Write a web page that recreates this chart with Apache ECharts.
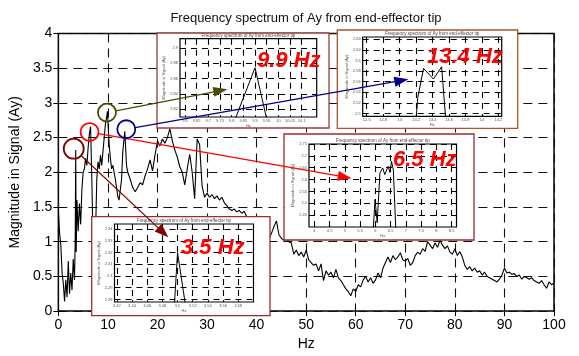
<!DOCTYPE html>
<html><head><meta charset="utf-8">
<script src="https://cdn.jsdelivr.net/npm/echarts@6/dist/echarts.min.js"></script>
<style>html,body{margin:0;padding:0;background:#fff}#c{width:579px;height:356px}</style>
</head><body><div id="c"></div>
<script>
// ---------------- DATA ----------------
const freq = [0,0.25,0.5,0.75,1,1.25,1.5,1.75,2,2.25,2.5,2.75,3,3.25,3.4,3.5,3.6,3.75,4,4.25,4.5,4.75,5,5.25,5.5,5.75,6,6.25,6.5,6.75,7,7.25,7.5,7.75,8,8.25,8.5,8.75,9,9.25,9.5,9.75,9.9,10.25,10.5,10.75,11,11.5,12,12.25,12.5,12.75,13,13.4,13.75,
14,14.5,15,15.5,16,16.5,17,17.5,18,18.5,19,19.5,20,20.5,21,21.5,22,22.5,23,23.5,24,24.5,25,25.5,26,26.5,27,27.5,28,28.5,29,29.5,
30,30.5,31,31.5,32,32.5,33,33.5,34,34.5,35,35.5,36,36.5,37,37.5,38,38.5,39,39.5,40,40.5,41,41.5,42,42.5,43,43.5,44,44.5,45,45.5,
46,46.5,47,47.5,48,48.5,49,49.5,50,50.5,51,51.5,52,52.5,53,53.5,54,54.5,55,55.5,56,56.5,57,57.5,58,58.5,59,59.5,60,60.5,61,61.5,
62,62.5,63,63.5,64,64.5,65,65.5,66,66.5,67,67.5,68,68.5,69,69.5,70,70.5,71,71.5,72,72.5,73,73.5,74,74.5,75,75.5,76,76.5,77,77.5,
78,78.5,79,79.5,80,80.5,81,81.5,82,82.5,83,83.5,84,84.5,85,85.5,86,86.5,87,87.5,88,88.5,89,89.5,90,90.5,91,91.5,92,92.5,93,93.5,
94,94.5,95,95.5,96,96.5,97,97.5,98,98.5,99,99.5,100];
const mag = [1.45,1.12,0.95,0.55,0.40,0.14,0.45,0.20,0.72,0.25,0.55,0.30,0.75,0.45,1.0,2.32,0.85,1.60,1.15,1.55,1.25,1.75,2.0,2.05,2.2,2.1,2.35,2.55,2.66,1.9,1.0,0.8,1.1,1.9,2.15,2.05,2.25,2.1,2.3,2.5,2.7,2.8,2.88,2.4,2.2,2.05,2.1,1.9,1.65,1.6,1.62,1.9,2.3,2.59,2.1,
2.0,1.9,1.78,1.72,1.78,1.85,1.82,1.95,2.05,2.18,2.02,2.25,2.45,2.38,2.48,2.42,2.50,2.63,2.45,2.32,2.22,2.08,2.0,1.82,2.05,2.26,2.0,1.62,2.48,2.40,1.80,1.64,
1.70,1.64,1.68,1.62,1.66,1.60,1.64,1.56,1.52,1.47,1.45,1.47,1.43,1.45,1.41,1.44,1.36,1.30,1.26,1.22,1.20,1.17,1.15,1.12,1.10,1.05,1.12,1.22,1.30,1.10,1.05,1.02,
1.04,1.00,0.98,0.82,0.88,0.80,0.85,0.78,0.88,0.74,0.70,0.66,0.68,0.58,0.68,0.44,0.58,0.52,0.56,0.48,0.60,0.48,0.44,0.38,0.32,0.28,0.22,0.32,0.28,0.38,0.35,0.45,
0.50,0.42,0.48,0.40,0.45,0.55,0.48,0.62,0.70,0.78,0.70,0.80,0.74,0.78,0.84,0.74,0.72,0.76,0.66,0.70,0.80,0.85,0.82,0.90,0.86,1.00,0.95,0.90,0.98,0.92,1.02,0.95,
0.90,0.94,0.85,0.82,0.90,0.80,0.86,0.78,0.66,0.60,0.64,0.58,0.62,0.56,0.58,0.52,0.56,0.50,0.48,0.46,0.44,0.42,0.46,0.52,0.62,0.55,0.56,0.53,0.54,0.50,0.52,0.46,
0.50,0.48,0.46,0.48,0.44,0.42,0.40,0.44,0.38,0.33,0.42,0.38,0.40];

// Inset data (zoomed spectra)
const insetA_freq = [9.8, 9.9, 10.0];
const insetA_mag  = [2.795, 2.874, 2.74];
const insetB_freq = [13.2, 13.22, 13.29, 13.41, 13.51, 13.58];
const insetB_mag  = [2.49, 2.53, 2.585, 2.565, 2.588, 2.45];
const insetC_freq = [5.93, 5.99, 6.06, 6.15, 6.24, 6.31, 6.42, 6.48, 6.53, 6.59, 6.67];
const insetC_mag  = [2.39, 2.516, 2.418, 2.628, 2.649, 2.621, 2.656, 2.63, 2.677, 2.64, 2.39];
const insetD_freq = [3.496, 3.5, 3.51];
const insetD_mag  = [2.277, 2.32, 2.277];

// Tick labels
const insetA_xTicks = [9.6, 9.65, 9.7, 9.75, 9.8, 9.85, 9.9, 9.95, 10, 10.05, 10.1];
const insetA_yTicks = [2.82, 2.84, 2.86, 2.88, 2.9];
const insetB_xTicks = [12.6, 12.8, 13, 13.2, 13.4, 13.6, 13.8, 14, 14.2];
const insetB_yTicks = [2.5, 2.52, 2.54, 2.56, 2.58, 2.6, 2.62, 2.64];
const insetC_xTicks = [4, 4.5, 5, 5.5, 6, 6.5, 7, 7.5, 8, 8.5];
const insetC_yTicks = [2.45, 2.5, 2.55, 2.6, 2.65, 2.7, 2.75];
const insetD_xTicks = [3.42, 3.44, 3.46, 3.48, 3.5, 3.52, 3.54, 3.56, 3.58];
const insetD_yTicks = [2.28, 2.29, 2.3, 2.31, 2.32, 2.33, 2.34];

const peakLabels = ['3.5 Hz', '6.5 Hz', '9.9 Hz', '13.4 Hz'];
const titleText = 'Frequency spectrum of Ay from end-effector tip';
const yName = 'Magnitude in Signal (Ay)';
const xName = 'Hz';

// ---------------- LAYOUT ----------------
const FONT = 'Liberation Sans, Arial, Helvetica, sans-serif';
const insets = [
  {grid:{left:180, top:38.7, width:136.7, height:78.3}, box:[157,33,172,95], boxColor:'#9a3c3c',
   xr:[9.579,10.164], yr:[2.8096,2.912], xt:insetA_xTicks, yt:insetA_yTicks, f:insetA_freq, m:insetA_mag,
   label:peakLabels[2], labelPos:[257,69]},
  {grid:{left:362.7, top:37, width:139, height:79.3}, box:[337.3,30,180.4,98.3], boxColor:'#b0532c',
   xr:[12.551,14.24], yr:[2.495,2.644], xt:insetB_xTicks, yt:insetB_yTicks, f:insetB_freq, m:insetB_mag,
   label:peakLabels[3], labelPos:[427,64.5]},
  {grid:{left:309, top:144, width:147.5, height:83}, box:[284,134,190,106], boxColor:'#a02a2a',
   xr:[3.825,8.66], yr:[2.40,2.75], xt:insetC_xTicks, yt:insetC_yTicks, f:insetC_freq, m:insetC_mag,
   label:peakLabels[1], labelPos:[393,168]},
  {grid:{left:114.5, top:224, width:139, height:78}, box:[91.7,216.7,178.3,99], boxColor:'#a02a2a',
   xr:[3.417,3.60], yr:[2.2778,2.3445], xt:insetD_xTicks, yt:insetD_yTicks, f:insetD_freq, m:insetD_mag,
   label:peakLabels[0], labelPos:[181,255.7]}
];

const fmt = v => String(parseFloat((+v).toFixed(4)));

const grids = [{left:58, top:33.5, width:496, height:284.2, show:true, borderColor:'#000', borderWidth:1.5, backgroundColor:'transparent', z:0}];
const xAxes = [
  {gridIndex:0, type:'value', min:0, max:100, interval:10, position:'bottom',
   axisLine:{show:false}, axisTick:{show:true, inside:true, length:5, lineStyle:{color:'#000'}},
   axisLabel:{fontSize:14, color:'#000', fontFamily:FONT, margin:7},
   splitLine:{show:true, lineStyle:{color:'#111', type:[9,6], width:1.1}},
   name:xName, nameLocation:'middle', nameGap:24, nameTextStyle:{fontSize:14, color:'#000', fontFamily:FONT}},
  {gridIndex:0, type:'value', min:0, max:100, interval:10, position:'top',
   axisLine:{show:false}, axisTick:{show:true, inside:true, length:5, lineStyle:{color:'#000'}},
   axisLabel:{show:false}, splitLine:{show:false}}
];
const yAxes = [
  {gridIndex:0, type:'value', min:0, max:4, interval:0.5, position:'left',
   axisLine:{show:false}, axisTick:{show:true, inside:true, length:5, lineStyle:{color:'#000'}},
   axisLabel:{fontSize:14, color:'#000', fontFamily:FONT, margin:6},
   splitLine:{show:true, lineStyle:{color:'#111', type:[9,6], width:1.1}},
   name:yName, nameLocation:'middle', nameGap:33, nameTextStyle:{fontSize:14, color:'#000', fontFamily:FONT}},
  {gridIndex:0, type:'value', min:0, max:4, interval:0.5, position:'right',
   axisLine:{show:false}, axisTick:{show:true, inside:true, length:5, lineStyle:{color:'#000'}},
   axisLabel:{show:false}, splitLine:{show:false}}
];
const series = [{
  type:'line', xAxisIndex:0, yAxisIndex:0, showSymbol:false, symbol:'none', z:2,
  lineStyle:{color:'#000', width:1.1}, data: freq.map((f,i)=>[f, mag[i]]), animation:false
}];
const graphics = [];

insets.forEach((ins, k) => {
  const gi = k + 1;
  const ai = xAxes.length;
  grids.push(Object.assign({show:true, borderColor:'#000', borderWidth:1.2, backgroundColor:'#fff', z:11}, ins.grid));
  xAxes.push({gridIndex:gi, type:'value', min:ins.xr[0], max:ins.xr[1], z:12, position:'bottom',
    axisLine:{show:false},
    axisTick:{show:true, inside:true, length:2, customValues:ins.xt, lineStyle:{color:'#000', width:0.8}},
    axisLabel:{customValues:ins.xt, fontSize:4, color:'#555', margin:2, fontFamily:FONT, formatter:fmt},
    splitLine:{show:true, lineStyle:{color:'#000', type:[6,5], width:1.1}},
    name:xName, nameLocation:'middle', nameGap:7, nameTextStyle:{fontSize:4, color:'#555', fontFamily:FONT}});
  yAxes.push({gridIndex:gi, type:'value', min:ins.yr[0], max:ins.yr[1], z:12, position:'left',
    axisLine:{show:false},
    axisTick:{show:true, inside:true, length:2, customValues:ins.yt, lineStyle:{color:'#000', width:0.8}},
    axisLabel:{customValues:ins.yt, fontSize:4, color:'#555', margin:2, fontFamily:FONT, formatter:fmt},
    splitLine:{show:true, lineStyle:{color:'#000', type:[6,5], width:1.1}},
    name:yName, nameLocation:'middle', nameGap:9, nameTextStyle:{fontSize:4, color:'#555', fontFamily:FONT}});
  series.push({type:'line', xAxisIndex:ai, yAxisIndex:ai, showSymbol:false, symbol:'none', z:13, clip:true,
    lineStyle:{color:'#000', width:1}, data: ins.f.map((f,i)=>[f, ins.m[i]]), animation:false});
  // outer white box
  graphics.push({type:'rect', z:10, shape:{x:ins.box[0], y:ins.box[1], width:ins.box[2], height:ins.box[3]},
    style:{fill:'#fff', stroke:ins.boxColor, lineWidth:1.3}});
  // inset title
  graphics.push({type:'text', z:14, style:{text:titleText, x:ins.grid.left + ins.grid.width/2, y:ins.grid.top - 3,
    align:'center', verticalAlign:'middle', font:'4.5px '+FONT, fill:'#444'}});
  // big peak label
  graphics.push({type:'text', z:15, style:{text:ins.label, x:ins.labelPos[0], y:ins.labelPos[1] - 7.7,
    align:'left', verticalAlign:'middle', font:'italic bold 22px '+FONT, fill:'#ff0000'}});
});

graphics.push({type:'text', z:15, style:{text:titleText, x:306, y:18, align:'center', verticalAlign:'middle',
  font:'13px '+FONT, fill:'#111'}});

const chart = echarts.init(document.getElementById('c'), null, {renderer:'canvas'});
chart.setOption({animation:false, backgroundColor:'#fff', grid:grids, xAxis:xAxes, yAxis:yAxes, series:series, graphic:graphics});

// annotations: circles around peaks (data coords) and arrows into insets
const annotations = [
  {center:[3.1,2.34], r:10, color:'#800000', tip:[168.3,237.3]},
  {center:[6.3,2.58], r:9, color:'#ff0000', tip:[351.7,178.3]},
  {center:[9.8,2.86], r:9, color:'#4a4a00', tip:[227.3,89.3]},
  {center:[13.7,2.62], r:9, color:'#00008b', tip:[408.3,79.3]}
];
const extra = [];
annotations.forEach(a => {
  const c = chart.convertToPixel({gridIndex:0}, a.center);
  const dx = a.tip[0]-c[0], dy = a.tip[1]-c[1], L = Math.hypot(dx,dy);
  const ux = dx/L, uy = dy/L, nx = -uy, ny = ux;
  const s = [c[0]+ux*a.r, c[1]+uy*a.r];
  const hl = 14, hw = 5;
  const base = [a.tip[0]-ux*hl, a.tip[1]-uy*hl];
  extra.push({type:'circle', z:20, shape:{cx:c[0], cy:c[1], r:a.r}, style:{fill:'none', stroke:a.color, lineWidth:1.8}});
  extra.push({type:'line', z:20, shape:{x1:s[0], y1:s[1], x2:base[0]+ux*2, y2:base[1]+uy*2}, style:{stroke:a.color, lineWidth:1.2}});
  extra.push({type:'polygon', z:20, shape:{points:[a.tip, [base[0]+nx*hw, base[1]+ny*hw], [base[0]-nx*hw, base[1]-ny*hw]]}, style:{fill:a.color}});
});
chart.setOption({graphic: graphics.concat(extra)});
</script>
</body></html>
